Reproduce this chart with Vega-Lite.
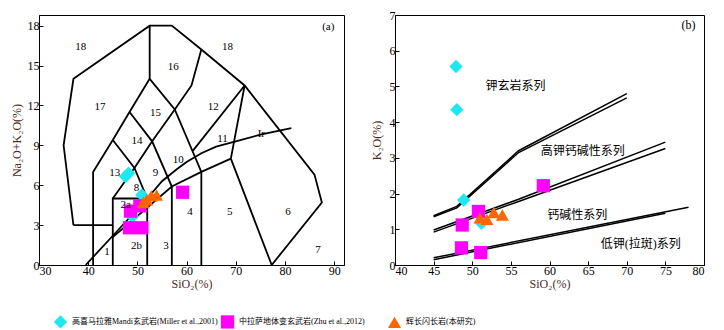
{
  "$schema": "https://vega.github.io/schema/vega-lite/v6.json",
  "padding": {"left": 9, "top": 8, "right": 0, "bottom": 0},
  "autosize": {"type": "pad"},
  "spacing": 24,
  "config": {
    "font": "Liberation Serif",
    "view": {"stroke": "#000", "strokeWidth": 1},
    "axis": {
      "grid": false,
      "domainColor": "#000",
      "tickColor": "#000",
      "tickSize": -4,
      "labelPadding": 4,
      "labelFont": "Liberation Serif",
      "labelFontSize": 12,
      "labelColor": "#000",
      "titleFont": "Liberation Serif",
      "titleFontSize": 12,
      "titleFontWeight": "normal",
      "titleColor": "#4d2a1e"
    }
  },
  "datasets": {
    "tasLines": [
      {"id": "L1", "o": 1, "x": 37, "y": 3}, {"id": "L1", "o": 2, "x": 35, "y": 9}, {"id": "L1", "o": 3, "x": 37, "y": 14}, {"id": "L1", "o": 4, "x": 52.5, "y": 18}, {"id": "L1", "o": 5, "x": 57, "y": 18}, {"id": "L1", "o": 6, "x": 63, "y": 16.2}, {"id": "L1", "o": 7, "x": 71.8, "y": 13.5}, {"id": "L1", "o": 8, "x": 86, "y": 6.8}, {"id": "L1", "o": 9, "x": 87.5, "y": 4.7}, {"id": "L1", "o": 10, "x": 77.3, "y": 0},
      {"id": "L2", "o": 1, "x": 37, "y": 3}, {"id": "L2", "o": 2, "x": 45, "y": 3},
      {"id": "L3", "o": 1, "x": 41, "y": 0}, {"id": "L3", "o": 2, "x": 41, "y": 7}, {"id": "L3", "o": 3, "x": 45, "y": 9.4}, {"id": "L3", "o": 4, "x": 48.4, "y": 11.5}, {"id": "L3", "o": 5, "x": 52.5, "y": 14}, {"id": "L3", "o": 6, "x": 52.5, "y": 18},
      {"id": "L4", "o": 1, "x": 45, "y": 0}, {"id": "L4", "o": 2, "x": 45, "y": 5}, {"id": "L4", "o": 3, "x": 52, "y": 5}, {"id": "L4", "o": 4, "x": 52, "y": 0},
      {"id": "L5", "o": 1, "x": 45, "y": 9.4}, {"id": "L5", "o": 2, "x": 49.4, "y": 7.3}, {"id": "L5", "o": 3, "x": 52, "y": 5},
      {"id": "L6", "o": 1, "x": 45, "y": 5}, {"id": "L6", "o": 2, "x": 49.4, "y": 7.3}, {"id": "L6", "o": 3, "x": 53, "y": 9.3}, {"id": "L6", "o": 4, "x": 57.6, "y": 11.7}, {"id": "L6", "o": 5, "x": 61, "y": 13.5}, {"id": "L6", "o": 6, "x": 63, "y": 16.2},
      {"id": "L7", "o": 1, "x": 48.4, "y": 11.5}, {"id": "L7", "o": 2, "x": 53, "y": 9.3}, {"id": "L7", "o": 3, "x": 57, "y": 5.9}, {"id": "L7", "o": 4, "x": 57, "y": 0},
      {"id": "L8", "o": 1, "x": 52.5, "y": 14}, {"id": "L8", "o": 2, "x": 57.6, "y": 11.7}, {"id": "L8", "o": 3, "x": 63, "y": 7}, {"id": "L8", "o": 4, "x": 63, "y": 0},
      {"id": "L9", "o": 1, "x": 71.8, "y": 13.5}, {"id": "L9", "o": 2, "x": 61.3, "y": 8.6},
      {"id": "L10", "o": 1, "x": 71.8, "y": 13.5}, {"id": "L10", "o": 2, "x": 69, "y": 8}, {"id": "L10", "o": 3, "x": 77.3, "y": 0},
      {"id": "L11", "o": 1, "x": 45, "y": 2.1}, {"id": "L11", "o": 2, "x": 57, "y": 5.9}, {"id": "L11", "o": 3, "x": 63, "y": 7}, {"id": "L11", "o": 4, "x": 69, "y": 8},
      {"id": "L12", "o": 1, "x": 39.5, "y": 0}, {"id": "L12", "o": 2, "x": 45, "y": 2.2}, {"id": "L12", "o": 3, "x": 52, "y": 5}, {"id": "L12", "o": 4, "x": 55, "y": 6.3}, {"id": "L12", "o": 5, "x": 58, "y": 7.2}, {"id": "L12", "o": 6, "x": 60, "y": 7.75}, {"id": "L12", "o": 7, "x": 63, "y": 8.4}, {"id": "L12", "o": 8, "x": 66, "y": 8.9}, {"id": "L12", "o": 9, "x": 70, "y": 9.3}, {"id": "L12", "o": 10, "x": 75, "y": 9.8}, {"id": "L12", "o": 11, "x": 81.3, "y": 10.3}
    ],
    "tasPts": [
      {"g": "高喜马拉雅Mandi玄武岩(Miller et al.,2001)", "x": 47.6, "y": 6.65},
      {"g": "高喜马拉雅Mandi玄武岩(Miller et al.,2001)", "x": 48.2, "y": 6.9},
      {"g": "高喜马拉雅Mandi玄武岩(Miller et al.,2001)", "x": 50.9, "y": 5.27},
      {"g": "高喜马拉雅Mandi玄武岩(Miller et al.,2001)", "x": 49.0, "y": 3.65},
      {"g": "中拉萨地体变玄武岩(Zhu et al.,2012)", "x": 48.6, "y": 4.05},
      {"g": "中拉萨地体变玄武岩(Zhu et al.,2012)", "x": 50.5, "y": 4.45},
      {"g": "中拉萨地体变玄武岩(Zhu et al.,2012)", "x": 48.4, "y": 2.8},
      {"g": "中拉萨地体变玄武岩(Zhu et al.,2012)", "x": 50.9, "y": 2.8},
      {"g": "中拉萨地体变玄武岩(Zhu et al.,2012)", "x": 59.2, "y": 5.47},
      {"g": "辉长闪长岩(本研究)", "x": 51.2, "y": 4.7},
      {"g": "辉长闪长岩(本研究)", "x": 51.9, "y": 4.9},
      {"g": "辉长闪长岩(本研究)", "x": 52.8, "y": 5.2},
      {"g": "辉长闪长岩(本研究)", "x": 53.9, "y": 5.25}
    ],
    "tasLbl": [
      {"x": 38.5, "y": 16.4, "t": "18"}, {"x": 68.3, "y": 16.4, "t": "18"}, {"x": 57.3, "y": 14.9, "t": "16"}, {"x": 42.4, "y": 11.85, "t": "17"}, {"x": 53.7, "y": 11.4, "t": "15"}, {"x": 65.4, "y": 11.9, "t": "12"}, {"x": 49.9, "y": 9.3, "t": "14"}, {"x": 67.3, "y": 9.5, "t": "11"}, {"x": 75.2, "y": 9.85, "t": "Ir"}, {"x": 58.3, "y": 7.9, "t": "10"}, {"x": 45.4, "y": 6.9, "t": "13"}, {"x": 53.7, "y": 6.9, "t": "9"}, {"x": 49.8, "y": 5.8, "t": "8"}, {"x": 47.6, "y": 4.5, "t": "2a"}, {"x": 60.7, "y": 3.95, "t": "4"}, {"x": 68.8, "y": 3.95, "t": "5"}, {"x": 80.6, "y": 3.95, "t": "6"}, {"x": 55.8, "y": 1.43, "t": "3"}, {"x": 49.8, "y": 1.43, "t": "2b"}, {"x": 43.8, "y": 0.95, "t": "1"}, {"x": 86.7, "y": 1.13, "t": "7"}, {"x": 88.8, "y": 17.9, "t": "(a)"}
    ],
    "kLines": [
      {"id": "P1a", "o": 1, "x": 45, "y": 1.38}, {"id": "P1a", "o": 2, "x": 48, "y": 1.64}, {"id": "P1a", "o": 3, "x": 56, "y": 3.2}, {"id": "P1a", "o": 4, "x": 70, "y": 4.8},
      {"id": "P1b", "o": 1, "x": 45, "y": 1.35}, {"id": "P1b", "o": 2, "x": 48, "y": 1.6}, {"id": "P1b", "o": 3, "x": 56, "y": 3.15}, {"id": "P1b", "o": 4, "x": 70, "y": 4.68},
      {"id": "P2a", "o": 1, "x": 45, "y": 0.98}, {"id": "P2a", "o": 2, "x": 56, "y": 1.84}, {"id": "P2a", "o": 3, "x": 75, "y": 3.44},
      {"id": "P2b", "o": 1, "x": 45, "y": 0.92}, {"id": "P2b", "o": 2, "x": 56, "y": 1.78}, {"id": "P2b", "o": 3, "x": 75, "y": 3.26},
      {"id": "P3a", "o": 1, "x": 45, "y": 0.2}, {"id": "P3a", "o": 2, "x": 78, "y": 1.62},
      {"id": "P3b", "o": 1, "x": 45, "y": 0.15}, {"id": "P3b", "o": 2, "x": 75, "y": 1.45}
    ],
    "kPts": [
      {"g": "高喜马拉雅Mandi玄武岩(Miller et al.,2001)", "x": 47.9, "y": 5.56},
      {"g": "高喜马拉雅Mandi玄武岩(Miller et al.,2001)", "x": 48.0, "y": 4.35},
      {"g": "高喜马拉雅Mandi玄武岩(Miller et al.,2001)", "x": 48.9, "y": 1.82},
      {"g": "高喜马拉雅Mandi玄武岩(Miller et al.,2001)", "x": 51.2, "y": 1.17},
      {"g": "中拉萨地体变玄武岩(Zhu et al.,2012)", "x": 48.7, "y": 1.12},
      {"g": "中拉萨地体变玄武岩(Zhu et al.,2012)", "x": 50.8, "y": 1.5},
      {"g": "中拉萨地体变玄武岩(Zhu et al.,2012)", "x": 59.2, "y": 2.22},
      {"g": "中拉萨地体变玄武岩(Zhu et al.,2012)", "x": 48.6, "y": 0.48},
      {"g": "中拉萨地体变玄武岩(Zhu et al.,2012)", "x": 51.1, "y": 0.35},
      {"g": "辉长闪长岩(本研究)", "x": 51.0, "y": 1.32},
      {"g": "辉长闪长岩(本研究)", "x": 51.9, "y": 1.28},
      {"g": "辉长闪长岩(本研究)", "x": 52.8, "y": 1.47},
      {"g": "辉长闪长岩(本研究)", "x": 53.9, "y": 1.4}
    ],
    "kLbl": [
      {"x": 55.6, "y": 5.0, "t": "钾玄岩系列"}, {"x": 64.3, "y": 3.19, "t": "高钾钙碱性系列"}, {"x": 63.6, "y": 1.39, "t": "钙碱性系列"}, {"x": 71.8, "y": 0.58, "t": "低钾(拉斑)系列"}, {"x": 78, "y": 6.72, "t": "(b)"}
    ]
  },
  "hconcat": [
    {
      "width": 305,
      "height": 250,
      "encoding": {
        "x": {"field": "x", "type": "quantitative", "scale": {"domain": [30, 92], "nice": false, "zero": false}, "axis": {"values": [30, 40, 50, 60, 70, 80, 90], "title": "SiO₂(%)", "titlePadding": 2}},
        "y": {"field": "y", "type": "quantitative", "scale": {"domain": [0, 18.8], "nice": false}, "axis": {"values": [0, 3, 6, 9, 12, 15, 18], "title": "Na₂O+K₂O(%)", "titlePadding": 4}}
      },
      "layer": [
        {"data": {"name": "tasLines"}, "mark": {"type": "line", "color": "#000", "strokeWidth": 1.8}, "encoding": {"detail": {"field": "id"}, "order": {"field": "o", "type": "quantitative"}}},
        {"data": {"name": "tasPts"}, "mark": {"type": "point", "filled": true, "opacity": 1},
          "encoding": {
            "color": {"field": "g", "type": "nominal", "scale": {"domain": ["高喜马拉雅Mandi玄武岩(Miller et al.,2001)", "中拉萨地体变玄武岩(Zhu et al.,2012)", "辉长闪长岩(本研究)"], "range": ["#1ee8f0", "#ff00ff", "#ff6600"]},
              "legend": {"orient": "none", "legendX": 14, "legendY": 299, "direction": "horizontal", "title": null, "symbolSize": 110, "labelFontSize": 8, "labelFont": "Liberation Serif, Noto Sans CJK SC", "gridAlign": "all", "columnPadding": 2, "labelOffset": 4, "labelLimit": 300}},
            "shape": {"field": "g", "type": "nominal", "scale": {"domain": ["高喜马拉雅Mandi玄武岩(Miller et al.,2001)", "中拉萨地体变玄武岩(Zhu et al.,2012)", "辉长闪长岩(本研究)"], "range": ["diamond", "square", "triangle-up"]},
              "legend": {"orient": "none", "legendX": 14, "legendY": 299, "direction": "horizontal", "title": null, "symbolSize": 110, "labelFontSize": 8, "labelFont": "Liberation Serif, Noto Sans CJK SC", "gridAlign": "all", "columnPadding": 2, "labelOffset": 4, "labelLimit": 300}},
            "size": {"field": "g", "type": "nominal", "scale": {"domain": ["高喜马拉雅Mandi玄武岩(Miller et al.,2001)", "中拉萨地体变玄武岩(Zhu et al.,2012)", "辉长闪长岩(本研究)"], "range": [180, 170, 230]}, "legend": null}
          }},
        {"data": {"name": "tasLbl"}, "mark": {"type": "text", "font": "Liberation Serif", "fontSize": 11, "color": "#000"}, "encoding": {"text": {"field": "t"}}}
      ]
    },
    {
      "width": 309,
      "height": 250,
      "encoding": {
        "x": {"field": "x", "type": "quantitative", "scale": {"domain": [40, 80], "nice": false, "zero": false}, "axis": {"values": [40, 45, 50, 55, 60, 65, 70, 75, 80], "title": "SiO₂(%)", "titlePadding": 2}},
        "y": {"field": "y", "type": "quantitative", "scale": {"domain": [0, 7], "nice": false}, "axis": {"values": [0, 1, 2, 3, 4, 5, 6, 7], "title": "K₂O(%)", "titlePadding": 6}}
      },
      "layer": [
        {"data": {"name": "kLines"}, "mark": {"type": "line", "color": "#000", "strokeWidth": 1.5}, "encoding": {"detail": {"field": "id"}, "order": {"field": "o", "type": "quantitative"}}},
        {"data": {"name": "kPts"}, "mark": {"type": "point", "filled": true, "opacity": 1},
          "encoding": {
            "color": {"field": "g", "type": "nominal"},
            "shape": {"field": "g", "type": "nominal"},
            "size": {"field": "g", "type": "nominal", "legend": null}
          }},
        {"data": {"name": "kLbl"}, "mark": {"type": "text", "font": "Liberation Serif, Noto Sans CJK SC", "fontSize": 12, "color": "#000"}, "encoding": {"text": {"field": "t"}}}
      ]
    }
  ]
}
